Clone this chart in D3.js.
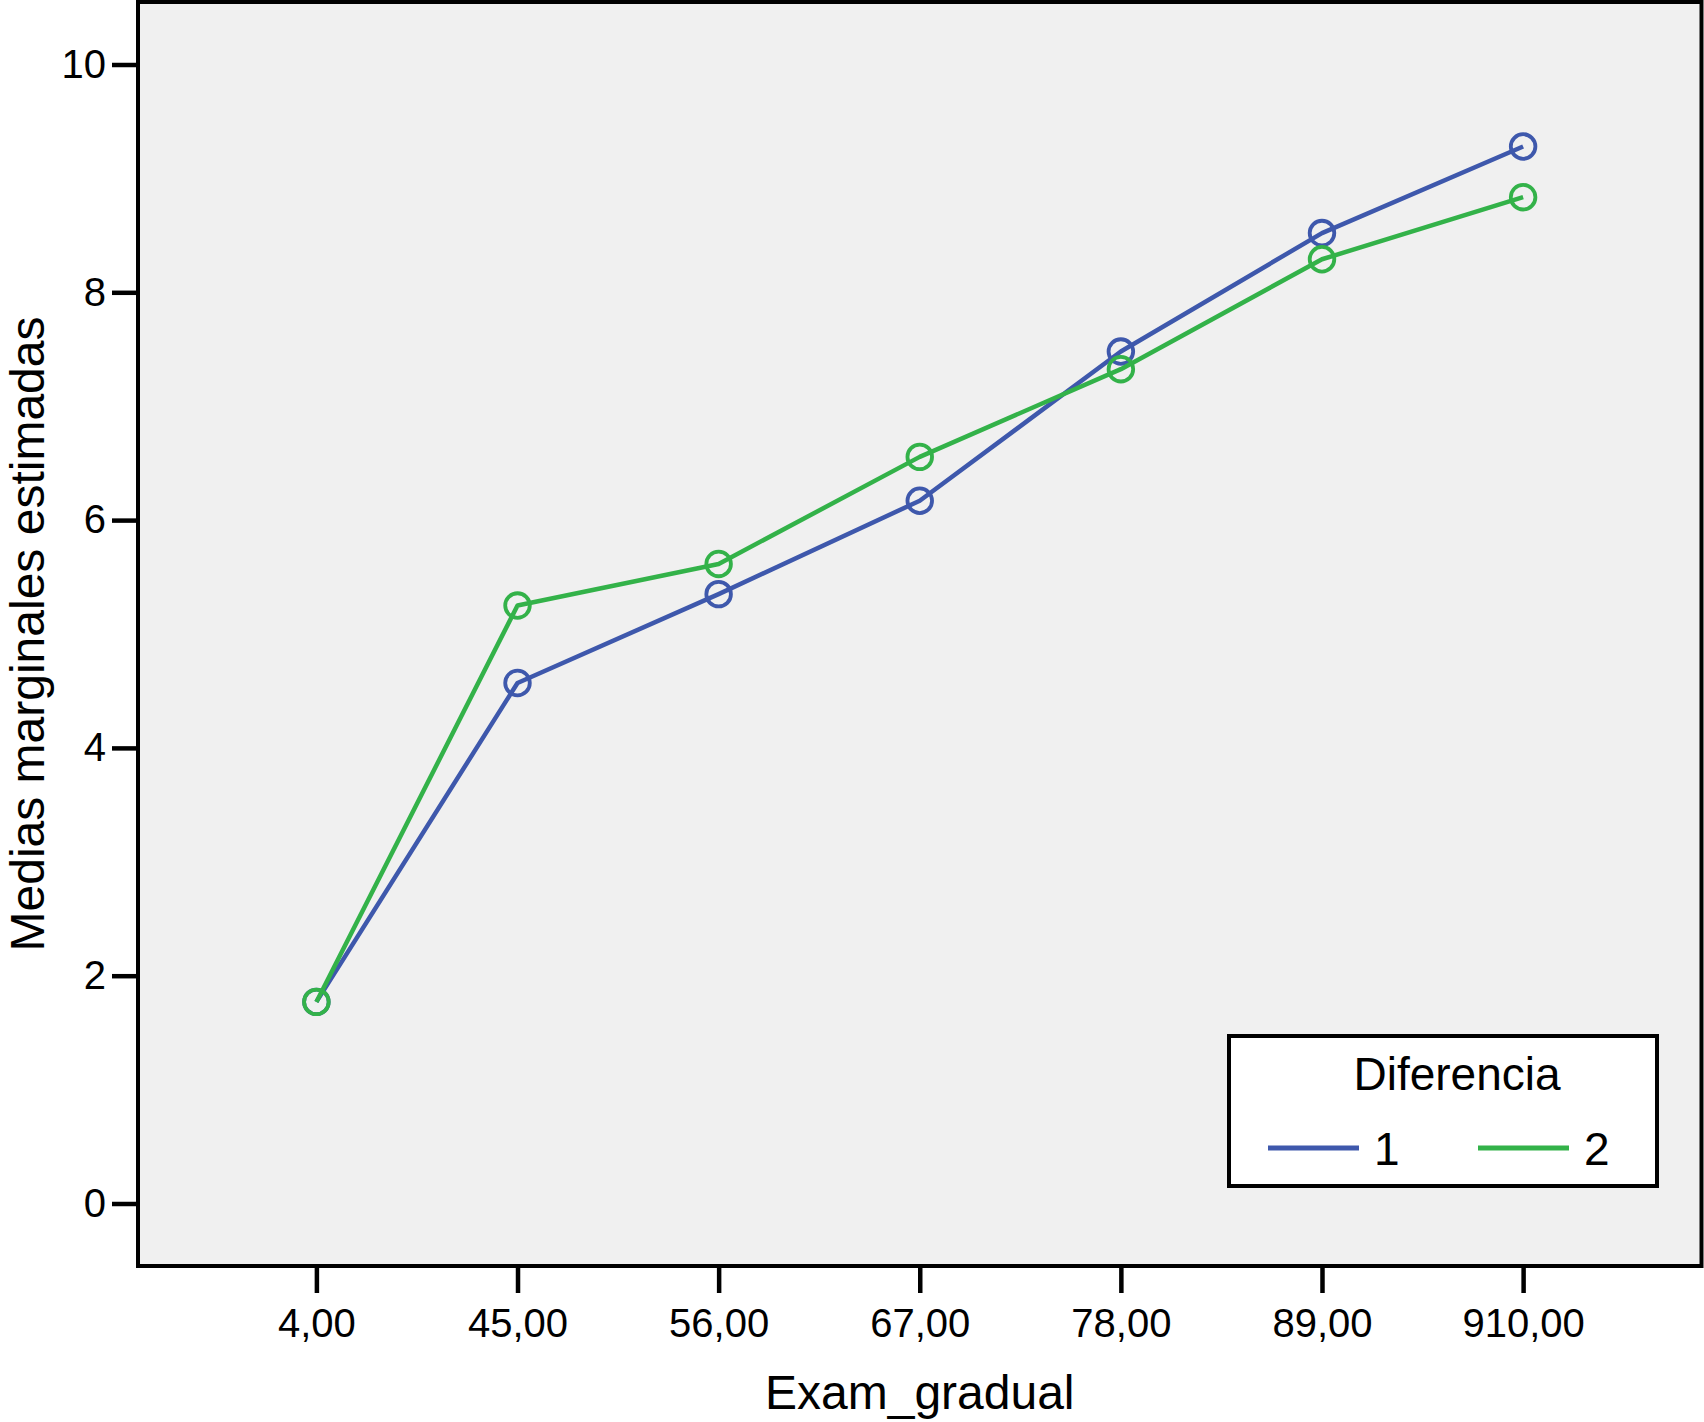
<!DOCTYPE html>
<html>
<head>
<meta charset="utf-8">
<script src="https://cdn.jsdelivr.net/npm/d3@7"></script>
<style>
  body { margin: 0; background: #fff; }
  svg { display: block; }
  text { font-family: "Liberation Sans", Arial, Helvetica, sans-serif; fill: #000; }
</style>
</head>
<body>
<svg id="chart" width="1704" height="1422"></svg>
<script>
const categories = ["4,00", "45,00", "56,00", "67,00", "78,00", "89,00", "910,00"];
const series1 = [1.77, 4.57, 5.35, 6.17, 7.48, 8.52, 9.28];
const series2 = [1.77, 5.25, 5.615, 6.555, 7.325, 8.29, 8.835];
const yTicks = [0, 2, 4, 6, 8, 10];
const seriesNames = ["1", "2"];
const seriesColors = ["#3E58AC", "#33B249"];
const legendTitle = "Diferencia";
const xTitle = "Exam_gradual";
const yTitle = "Medias marginales estimadas";

const svg = d3.select("#chart");
const plot = { left: 138, top: 2, right: 1701.5, bottom: 1266 };

const x = d3.scalePoint().domain(categories).range([plot.left, plot.right]).padding(0.887);
const y = d3.scaleLinear().domain([0, 10]).range([1203.5, 64.5]);

// plot background
svg.append("rect")
  .attr("x", plot.left).attr("y", plot.top)
  .attr("width", plot.right - plot.left).attr("height", plot.bottom - plot.top)
  .attr("fill", "#F0F0F0").attr("stroke", "#000").attr("stroke-width", 4);

// axes
const yAxis = svg.append("g")
  .attr("transform", `translate(${plot.left},0)`)
  .call(d3.axisLeft(y).tickValues(yTicks).tickSize(26).tickPadding(6).tickFormat(d3.format("d")));
yAxis.select(".domain").remove();
yAxis.selectAll(".tick line").attr("stroke", "#000").attr("stroke-width", 4.5);
yAxis.selectAll(".tick text").style("font-size", "40px").attr("fill", "#000");

const xAxis = svg.append("g")
  .attr("transform", `translate(0,${plot.bottom})`)
  .call(d3.axisBottom(x).tickSize(27).tickPadding(16));
xAxis.select(".domain").remove();
xAxis.selectAll(".tick line").attr("stroke", "#000").attr("stroke-width", 4.5);
xAxis.selectAll(".tick text").style("font-size", "40px").attr("fill", "#000");

// titles
svg.append("text")
  .attr("x", (plot.left + plot.right) / 2).attr("y", 1409)
  .attr("text-anchor", "middle").style("font-size", "48px")
  .text(xTitle);

svg.append("text")
  .attr("transform", `translate(44,${(plot.top + plot.bottom) / 2}) rotate(-90)`)
  .attr("text-anchor", "middle").style("font-size", "48px")
  .text(yTitle);

// series
const allSeries = [series1, series2];
const line = d3.line().x((d, i) => x(categories[i])).y(d => y(d));

allSeries.forEach((vals, si) => {
  const g = svg.append("g");
  g.append("path")
    .datum(vals)
    .attr("d", line)
    .attr("fill", "none")
    .attr("stroke", seriesColors[si])
    .attr("stroke-width", 4.5)
    .attr("stroke-linejoin", "round");
  g.selectAll("circle")
    .data(vals)
    .join("circle")
    .attr("cx", (d, i) => x(categories[i]))
    .attr("cy", d => y(d))
    .attr("r", 12.3)
    .attr("fill", "none")
    .attr("stroke", seriesColors[si])
    .attr("stroke-width", 3.8);
});

// legend
const lg = svg.append("g");
lg.append("rect")
  .attr("x", 1229).attr("y", 1036)
  .attr("width", 428).attr("height", 150)
  .attr("fill", "#fff").attr("stroke", "#000").attr("stroke-width", 4);
lg.append("text")
  .attr("x", 1457).attr("y", 1090)
  .attr("text-anchor", "middle").style("font-size", "46px")
  .text(legendTitle);
const legendItemX = [1268, 1478];
seriesNames.forEach((name, i) => {
  lg.append("line")
    .attr("x1", legendItemX[i]).attr("x2", legendItemX[i] + 91)
    .attr("y1", 1148).attr("y2", 1148)
    .attr("stroke", seriesColors[i]).attr("stroke-width", 5);
  lg.append("text")
    .attr("x", legendItemX[i] + 106).attr("y", 1165)
    .style("font-size", "46px")
    .text(name);
});
</script>
</body>
</html>
